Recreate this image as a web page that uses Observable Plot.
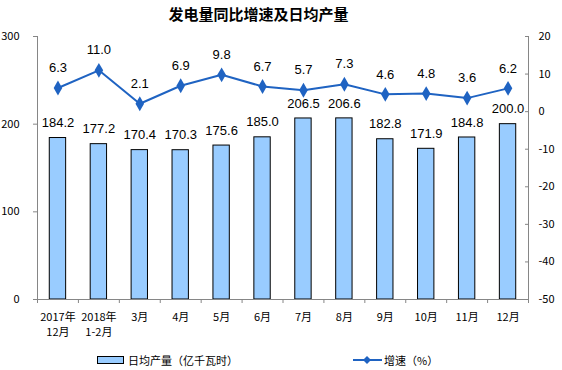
<!DOCTYPE html>
<html>
<head>
<meta charset="utf-8">
<script src="https://cdn.jsdelivr.net/npm/d3@7"></script>
<script src="https://cdn.jsdelivr.net/npm/@observablehq/plot@0.6"></script>
<style>
  body { margin: 0; background: #fff; }
  #wrap { position: relative; width: 562px; height: 370px; overflow: hidden; font-family: "Noto Sans CJK SC", sans-serif; color: #000; }
  #chart { position: absolute; left: 0; top: 0; }
  #title { position: absolute; top: 5px; left: 0; width: 517px; text-align: center; font-size: 15px; line-height: 18px; font-weight: bold; }
  .leg { position: absolute; font-size: 11px; line-height: 14px; white-space: nowrap; }
</style>
</head>
<body>
<div id="wrap">
  <div id="chart"></div>
  <div id="title">发电量同比增速及日均产量</div>
  <div class="leg" style="left:97px; top:356px; width:25px; height:6px; background:#99CCFF; border:1px solid #000; box-sizing:content-box;"></div>
  <div class="leg" style="left:128px; top:353px;">日均产量（亿千瓦时）</div>
  <svg class="leg" style="left:352px; top:354px;" width="32" height="12">
    <line x1="1" y1="6" x2="30" y2="6" stroke="#1f63c2" stroke-width="2"></line>
    <polygon points="15,2 19,6 15,10 11,6" fill="#1f63c2"></polygon>
  </svg>
  <div class="leg" style="left:384px; top:353px;">增速（%）</div>
</div>
<script>
const months = ["2017年\n12月","2018年\n1-2月","3月","4月","5月","6月","7月","8月","9月","10月","11月","12月"];
const dailyOutput = [184.2,177.2,170.4,170.3,175.6,185.0,206.5,206.6,182.8,171.9,184.8,200.0];
const growthRate = [6.3,11.0,2.1,6.9,9.8,6.7,5.7,7.3,4.6,4.8,3.6,6.2];
const leftTicks = [0,100,200,300];
const rightTicks = [-50,-40,-30,-20,-10,0,10,20];

const gray = "#868686";
const blue = "#1f63c2";
const data = months.map((m, i) => ({i, m, out: dailyOutput[i], g: growthRate[i]}));
// map right axis (-50..20) onto left scale (0..300)
const toLeft = v => (v + 50) * 300 / 70;
const fromLeft = y => String(Math.round(y * 70 / 300 - 50));
const bounds = d3.range(months.length + 1).map(k => k - 0.5);
const centers = d3.range(months.length);
const rightMapped = rightTicks.map(toLeft);

const chart = Plot.plot({
  width: 562,
  height: 370,
  marginLeft: 37,
  marginRight: 34,
  marginTop: 36,
  marginBottom: 71,
  style: {fontFamily: "'Noto Sans CJK SC', sans-serif", fontSize: "11px", background: "transparent", color: "#000"},
  x: {type: "linear", domain: [-0.5, months.length - 0.5], axis: null},
  y: {domain: [0, 300], axis: null},
  marks: [
    Plot.rectY(data, {x1: d => d.i - 0.2, x2: d => d.i + 0.2, y1: 0, y2: "out", fill: "#99CCFF", stroke: "#000", strokeWidth: 1}),
    Plot.ruleY([0], {stroke: gray}),
    Plot.ruleX([bounds[0], bounds[bounds.length - 1]], {stroke: gray}),
    Plot.axisX(bounds, {tickSize: 4, tickFormat: () => "", stroke: gray, label: null}),
    Plot.axisX(centers, {tickSize: 0, tickPadding: 11, tickFormat: i => months[i], lineHeight: 1.36, label: null}),
    Plot.axisY(leftTicks, {anchor: "left", tickSize: 4, tickPadding: 14, stroke: gray, label: null}),
    Plot.axisY(rightMapped, {anchor: "right", tickSize: 4, dx: -4, tickFormat: () => "", stroke: gray, label: null}),
    Plot.axisY(rightMapped, {anchor: "right", tickSize: 0, tickPadding: 10, tickFormat: fromLeft, label: null}),
    Plot.text(data, {x: "i", y: "out", text: d => d.out.toFixed(1), dy: -15, fontSize: 13, fontFamily: "'Liberation Sans', Arial, sans-serif"}),
    Plot.line(data, {x: "i", y: d => toLeft(d.g), stroke: blue, strokeWidth: 2}),
    Plot.dot(data, {x: "i", y: d => toLeft(d.g), symbol: "diamond", r: 4.5, fill: blue}),
    Plot.text(data, {x: "i", y: d => toLeft(d.g), text: d => d.g.toFixed(1), dy: -20, fontSize: 13, fontFamily: "'Liberation Sans', Arial, sans-serif"})
  ]
});
document.getElementById("chart").appendChild(chart);
</script>
</body>
</html>
